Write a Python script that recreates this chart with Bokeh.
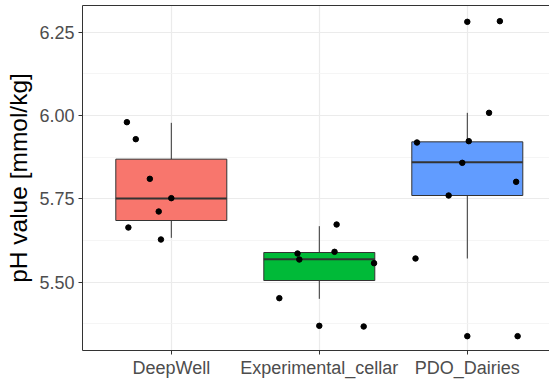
import numpy as np
from bokeh.plotting import figure
from bokeh.models import Range1d, FixedTicker, LinearAxis, ColumnDataSource, NumeralTickFormatter
from bokeh.embed import file_html
from bokeh.resources import INLINE

# ---- data ----
groups = ["DeepWell", "Experimental_cellar", "PDO_Dairies"]
colors = ["#F8766D", "#00BA38", "#619CFF"]
q1 = [5.685, 5.505, 5.760]
median = [5.751, 5.569, 5.860]
q3 = [5.869, 5.589, 5.921]
whisker_low = [5.633, 5.450, 5.571]
whisker_high = [5.978, 5.668, 6.008]

point_group = [0] * 7 + [1] * 8 + [2] * 11
point_value = [
    5.980, 5.929, 5.810, 5.752, 5.712, 5.664, 5.628,
    5.673, 5.586, 5.591, 5.568, 5.557, 5.452, 5.369, 5.367,
    6.281, 6.283, 6.008, 5.919, 5.923, 5.858, 5.801, 5.760, 5.571, 5.338, 5.338,
]
point_jitter = [
    -0.30, -0.24, -0.145, 0.00, -0.085, -0.29, -0.07,
    0.117, -0.147, 0.103, -0.135, 0.37, -0.27, 0.00, 0.30,
    0.00, 0.22, 0.147, -0.34, 0.01, -0.034, 0.33, -0.126, -0.35, 0.00, 0.34,
]

y_ticks = [5.50, 5.75, 6.00, 6.25]
y_minor = [5.375, 5.625, 5.875, 6.125]

box_width = 0.75
xpos = [i + 1 for i in range(len(groups))]

box_src = ColumnDataSource(dict(
    x=xpos, q1=q1, q3=q3, med=median, lo=whisker_low, hi=whisker_high, color=colors,
    x0=[x - box_width / 2 for x in xpos], x1=[x + box_width / 2 for x in xpos],
))
pt_src = ColumnDataSource(dict(
    x=[point_group[i] + 1 + point_jitter[i] for i in range(len(point_value))],
    y=point_value,
))

FONT = "Liberation Sans"

p = figure(width=549, height=380, output_backend="svg", toolbar_location=None,
           x_range=Range1d(0.4, 0.4 + 467 / 148), y_range=Range1d(5.295, 6.33),
           min_border_left=82, min_border_right=0, min_border_top=5, min_border_bottom=27)
p.outline_line_color = None
p.background_fill_color = "white"
p.border_fill_color = "white"

# grids
p.xgrid.ticker = FixedTicker(ticks=xpos)
p.xgrid.grid_line_color = "#EBEBEB"
p.xgrid.grid_line_width = 1.2
p.ygrid.ticker = FixedTicker(ticks=y_ticks, minor_ticks=y_minor)
p.ygrid.grid_line_color = "#EBEBEB"
p.ygrid.grid_line_width = 1.2
p.ygrid.minor_grid_line_color = "#F2F2F2"
p.ygrid.minor_grid_line_width = 0.8

# axes
p.xaxis.ticker = FixedTicker(ticks=xpos)
p.xaxis.major_label_overrides = {x: g for x, g in zip(xpos, groups)}
p.yaxis.ticker = FixedTicker(ticks=y_ticks, minor_ticks=y_minor)
p.yaxis.formatter = NumeralTickFormatter(format="0.00")
p.yaxis.axis_label = "pH value [mmol/kg]"
for ax in (p.xaxis[0], p.yaxis[0]):
    ax.axis_line_color = "#333333"
    ax.axis_line_width = 1
    ax.major_tick_line_color = "#333333"
    ax.major_tick_out = 4
    ax.major_tick_in = 0
    ax.minor_tick_line_color = None
    ax.major_label_text_font = FONT
    ax.major_label_text_font_size = "18px"
    ax.major_label_text_color = "#4D4D4D"
    ax.major_label_standoff = 4
p.xaxis.major_label_standoff = 3
p.yaxis.axis_label_text_font = FONT
p.yaxis.axis_label_text_font_size = "24.5px"
p.yaxis.axis_label_text_font_style = "normal"
p.yaxis.axis_label_text_color = "black"
p.yaxis.axis_label_standoff = 4

top_axis = LinearAxis(ticker=FixedTicker(ticks=[]), major_tick_line_color=None,
                      minor_tick_line_color=None, major_label_text_font_size="0px",
                      major_label_standoff=0, axis_line_color="#333333", axis_line_width=1)
p.add_layout(top_axis, "above")

# boxes
p.segment(x0="x", y0="q3", x1="x", y1="hi", source=box_src, line_color="#333333", line_width=1)
p.segment(x0="x", y0="q1", x1="x", y1="lo", source=box_src, line_color="#333333", line_width=1)
p.quad(left="x0", right="x1", bottom="q1", top="q3", source=box_src,
       fill_color="color", line_color="#333333", line_width=1)
p.segment(x0="x0", y0="med", x1="x1", y1="med", source=box_src, line_color="#333333", line_width=2)

# points
p.scatter(x="x", y="y", source=pt_src, size=5.5, color="black")

open("out.html", "w").write(file_html(p, INLINE))
